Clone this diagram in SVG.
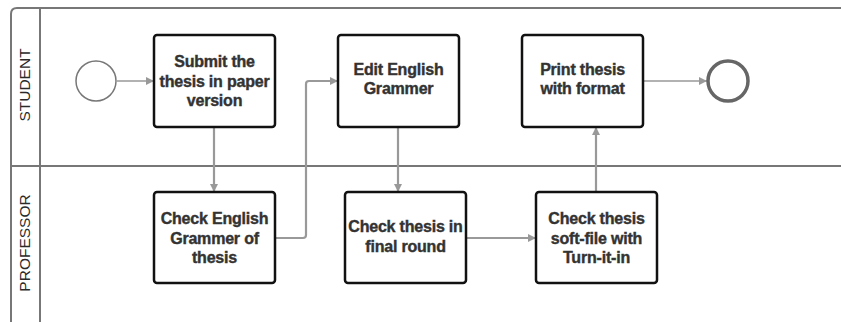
<svg xmlns="http://www.w3.org/2000/svg" width="841" height="322" viewBox="0 0 841 322">
  <style>
    .pool { fill: none; stroke: #777; stroke-width: 2; }
    .lane-label { font-family: "Liberation Sans", Arial, sans-serif; font-size: 15.5px; fill: #2a2a2a; text-anchor: middle; }
    .task rect { fill: #fff; stroke: #111; stroke-width: 2.5; }
    .task text { font-family: "Liberation Sans", Arial, sans-serif; font-size: 16px; font-weight: bold; fill: #333; stroke: #333; stroke-width: 0.4; text-anchor: middle; letter-spacing: -0.2px; }
    .flow { fill: none; stroke: #999; stroke-width: 2.2; marker-end: url(#arrow); }
    .flow.thin { stroke-width: 1.6; }
  </style>
  <defs>
    <marker id="arrow" viewBox="0 0 10 10" refX="10" refY="5" markerWidth="9" markerHeight="8" markerUnits="userSpaceOnUse" orient="auto">
      <path d="M0,0 L10,5 L0,10 z" fill="#999"/>
    </marker>
  </defs>
  <rect width="841" height="322" fill="#fff"/>

  <!-- pool and lanes -->
  <g id="pool">
    <path class="pool" d="M11,322 V14 Q11,8 17,8 H841"/>
    <line class="pool" x1="40" y1="8" x2="40" y2="322"/>
    <line class="pool" x1="11" y1="166" x2="841" y2="166"/>
    <text class="lane-label" transform="translate(30,85) rotate(-90)">STUDENT</text>
    <text class="lane-label" transform="translate(30,243) rotate(-90)">PROFESSOR</text>
  </g>

  <!-- sequence flows -->
  <g id="connectors">
    <line class="flow thin" x1="117" y1="81" x2="154" y2="81"/>
    <line class="flow" x1="214" y1="127" x2="214" y2="192"/>
    <path class="flow" d="M275,238 H303 Q306,238 306,235 V84 Q306,81 309,81 H338"/>
    <line class="flow" x1="398" y1="127" x2="398" y2="192"/>
    <line class="flow" x1="466" y1="238" x2="536" y2="238"/>
    <line class="flow" x1="596" y1="192" x2="596" y2="127"/>
    <line class="flow thin" x1="643" y1="81" x2="707" y2="81"/>
  </g>

  <g id="start">
    <circle cx="96" cy="81" r="20" fill="#fff" stroke="#777" stroke-width="1.5"/>
  </g>
  <g id="end">
    <circle cx="728" cy="81" r="20" fill="#fff" stroke="#666" stroke-width="3.5"/>
  </g>

  <g id="submit-thesis" class="task">
    <rect x="154" y="35" width="121" height="92" rx="3"/>
    <text x="214.5" y="67">Submit the</text>
    <text x="214.5" y="87">thesis in paper</text>
    <text x="214.5" y="106">version</text>
  </g>
  <g id="edit-grammer" class="task">
    <rect x="338" y="35" width="121" height="92" rx="3"/>
    <text x="398.5" y="75">Edit English</text>
    <text x="398.5" y="94">Grammer</text>
  </g>
  <g id="print-thesis" class="task">
    <rect x="522" y="35" width="121" height="92" rx="3"/>
    <text x="582.5" y="75">Print thesis</text>
    <text x="582.5" y="94">with format</text>
  </g>
  <g id="check-grammer" class="task">
    <rect x="154" y="192" width="121" height="91" rx="3"/>
    <text x="214.5" y="224">Check English</text>
    <text x="214.5" y="244">Grammer of</text>
    <text x="214.5" y="263">thesis</text>
  </g>
  <g id="check-final" class="task">
    <rect x="345" y="192" width="121" height="91" rx="3"/>
    <text x="405.5" y="232">Check thesis in</text>
    <text x="405.5" y="252">final round</text>
  </g>
  <g id="check-turnitin" class="task">
    <rect x="536" y="192" width="121" height="91" rx="3"/>
    <text x="596.5" y="224">Check thesis</text>
    <text x="596.5" y="244">soft-file with</text>
    <text x="596.5" y="263">Turn-it-in</text>
  </g>
</svg>
